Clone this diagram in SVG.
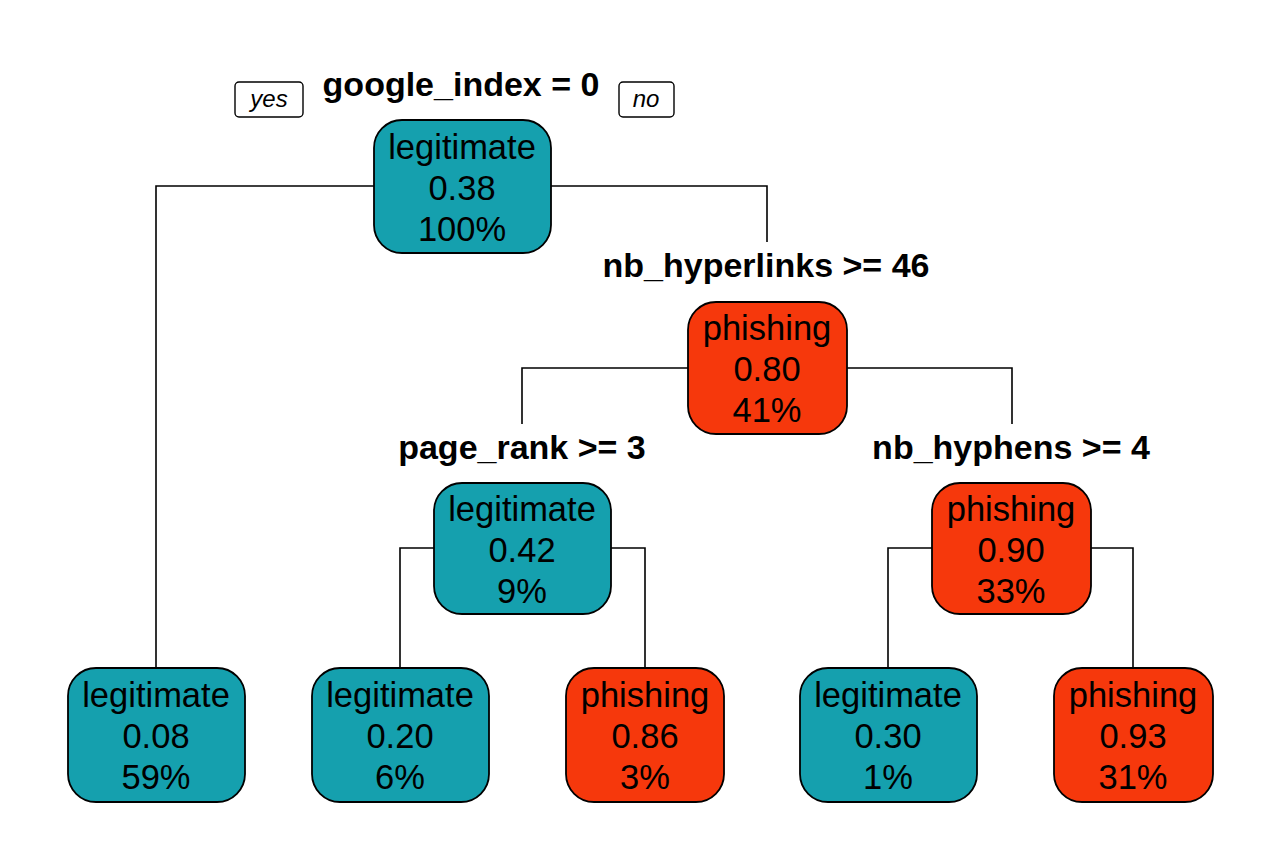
<svg xmlns="http://www.w3.org/2000/svg" width="1282" height="844" viewBox="0 0 1282 844">
<style>
.bx{stroke:#000;stroke-width:1.8}
.leg{fill:#15A0AE}
.phi{fill:#F6380C}
.t{font-family:"Liberation Sans",Arial,sans-serif;font-size:34.5px;text-anchor:middle;fill:#000}
.lb{font-family:"Liberation Sans",Arial,sans-serif;font-size:34px;font-weight:bold;text-anchor:middle;fill:#000}
.yn{font-family:"Liberation Sans",Arial,sans-serif;font-size:24px;font-style:italic;text-anchor:middle;fill:#000}
.c{fill:none;stroke:#000;stroke-width:1.6}
</style>
<rect width="1282" height="844" fill="#fff"/>
<g id="connectors" class="c">
<path d="M374,186 H156 V668"/>
<path d="M550,186 H767 V242"/>
<path d="M688,368 H522 V424"/>
<path d="M846,368 H1012 V424"/>
<path d="M434,548 H400 V668"/>
<path d="M611,548 H645 V668"/>
<path d="M932,548 H888 V668"/>
<path d="M1090,548 H1133 V668"/>
</g>
<g id="yesno">
<rect x="235" y="82" width="68" height="35" rx="4" fill="#fff" stroke="#000" stroke-width="1.4"/>
<text class="yn" x="269" y="107">yes</text>
<rect x="619" y="82" width="55" height="35" rx="4" fill="#fff" stroke="#000" stroke-width="1.4"/>
<text class="yn" x="646" y="107">no</text>
</g>
<g id="n1">
<text class="lb" x="461" y="96">google_index = 0</text>
<rect class="bx leg" x="374" y="120" width="177" height="133" rx="28"/>
<text class="t" x="462" y="159">legitimate</text>
<text class="t" x="462" y="200">0.38</text>
<text class="t" x="462" y="241">100%</text>
</g>
<g id="n2">
<text class="lb" x="766" y="277">nb_hyperlinks &gt;= 46</text>
<rect class="bx phi" x="688" y="302" width="159" height="132" rx="28"/>
<text class="t" x="767" y="340">phishing</text>
<text class="t" x="767" y="381">0.80</text>
<text class="t" x="767" y="422">41%</text>
</g>
<g id="n3">
<text class="lb" x="522" y="459">page_rank &gt;= 3</text>
<rect class="bx leg" x="434" y="483" width="177" height="131" rx="28"/>
<text class="t" x="522" y="521">legitimate</text>
<text class="t" x="522" y="562">0.42</text>
<text class="t" x="522" y="603">9%</text>
</g>
<g id="n4">
<text class="lb" x="1011" y="459">nb_hyphens &gt;= 4</text>
<rect class="bx phi" x="932" y="483" width="159" height="131" rx="28"/>
<text class="t" x="1011" y="521">phishing</text>
<text class="t" x="1011" y="562">0.90</text>
<text class="t" x="1011" y="603">33%</text>
</g>
<g id="leaf1">
<rect class="bx leg" x="68" y="668" width="177" height="134" rx="28"/>
<text class="t" x="156" y="707">legitimate</text>
<text class="t" x="156" y="748">0.08</text>
<text class="t" x="156" y="789">59%</text>
</g>
<g id="leaf2">
<rect class="bx leg" x="312" y="668" width="177" height="134" rx="28"/>
<text class="t" x="400" y="707">legitimate</text>
<text class="t" x="400" y="748">0.20</text>
<text class="t" x="400" y="789">6%</text>
</g>
<g id="leaf3">
<rect class="bx phi" x="566" y="668" width="158" height="134" rx="28"/>
<text class="t" x="645" y="707">phishing</text>
<text class="t" x="645" y="748">0.86</text>
<text class="t" x="645" y="789">3%</text>
</g>
<g id="leaf4">
<rect class="bx leg" x="800" y="668" width="177" height="134" rx="28"/>
<text class="t" x="888" y="707">legitimate</text>
<text class="t" x="888" y="748">0.30</text>
<text class="t" x="888" y="789">1%</text>
</g>
<g id="leaf5">
<rect class="bx phi" x="1054" y="668" width="159" height="134" rx="28"/>
<text class="t" x="1133" y="707">phishing</text>
<text class="t" x="1133" y="748">0.93</text>
<text class="t" x="1133" y="789">31%</text>
</g>
</svg>
